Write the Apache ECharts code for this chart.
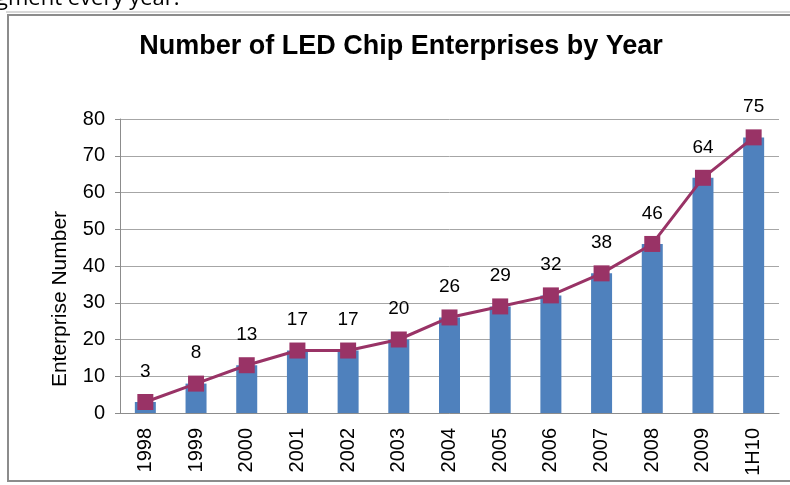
<!DOCTYPE html>
<html><head><meta charset="utf-8">
<script src="https://cdn.jsdelivr.net/npm/echarts@6/dist/echarts.min.js"></script>
<style>html,body{margin:0;padding:0;background:#fff}#c{width:790px;height:485px}</style>
</head><body><div id="c"></div>
<script>
const categories = ['1998','1999','2000','2001','2002','2003','2004','2005','2006','2007','2008','2009','1H10'];
const barValues = [3,8,13,17,17,20,26,29,32,38,46,64,75];
const lineValues = [3,8,13,17,17,20,26,29,32,38,46,64,75];
const yTicks = {min:0, max:80, interval:10};
const yName = 'Enterprise Number';

const chart = echarts.init(document.getElementById('c'), null, {renderer:'canvas'});
const font = 'Liberation Sans, Arial, sans-serif';
chart.setOption({
  animation:false,
  backgroundColor:'#fff',
  graphic:[
    {type:'text', left:-4, top:-12, style:{text:'gment every year.', font:'22px "Open Sans", sans-serif', fill:'#000'}},
    {type:'rect', shape:{x:8, y:15, width:800, height:466}, style:{fill:'none', stroke:'#8c8c8c', lineWidth:2}, z:-1},
    {type:'rect', shape:{x:6, y:11, width:800, height:2}, style:{fill:'#d8d8d8'}, z:-1},
    {type:'text', x:60, y:299, rotation:Math.PI/2,
      style:{text:yName, font:'21px Liberation Sans, Arial, sans-serif', fill:'#000', align:'center', verticalAlign:'middle'}}
  ],
  title:{text:'Number of LED Chip Enterprises by Year', left:396, textAlign:'center', top:28,
    textStyle:{fontFamily:font, fontSize:27, fontWeight:'bold', color:'#000'}},
  grid:{left:120, right:11, top:119, bottom:72},
  xAxis:{type:'category', data:categories,
    axisLine:{lineStyle:{color:'#8c8c8c', width:1}},
    axisTick:{show:false},
    axisLabel:{rotate:90, color:'#000', fontFamily:font, fontSize:20, margin:15}},
  yAxis:{type:'value', min:yTicks.min, max:yTicks.max, interval:yTicks.interval,
    axisLine:{show:true, lineStyle:{color:'#8c8c8c'}},
    axisTick:{show:true, length:5, lineStyle:{color:'#8c8c8c'}},
    axisLabel:{color:'#000', fontFamily:font, fontSize:20, margin:15},
    splitLine:{lineStyle:{color:'#a6a6a6', width:1}}},
  series:[
    {type:'bar', data:barValues, barWidth:21, itemStyle:{color:'#4F81BD'}},
    {type:'line', data:lineValues, symbol:'rect', symbolSize:16,
      lineStyle:{color:'#993366', width:3}, itemStyle:{color:'#993366'},
      label:{show:true, position:'top', distance:13, color:'#000', fontFamily:font, fontSize:19}}
  ]
});
</script></body></html>
